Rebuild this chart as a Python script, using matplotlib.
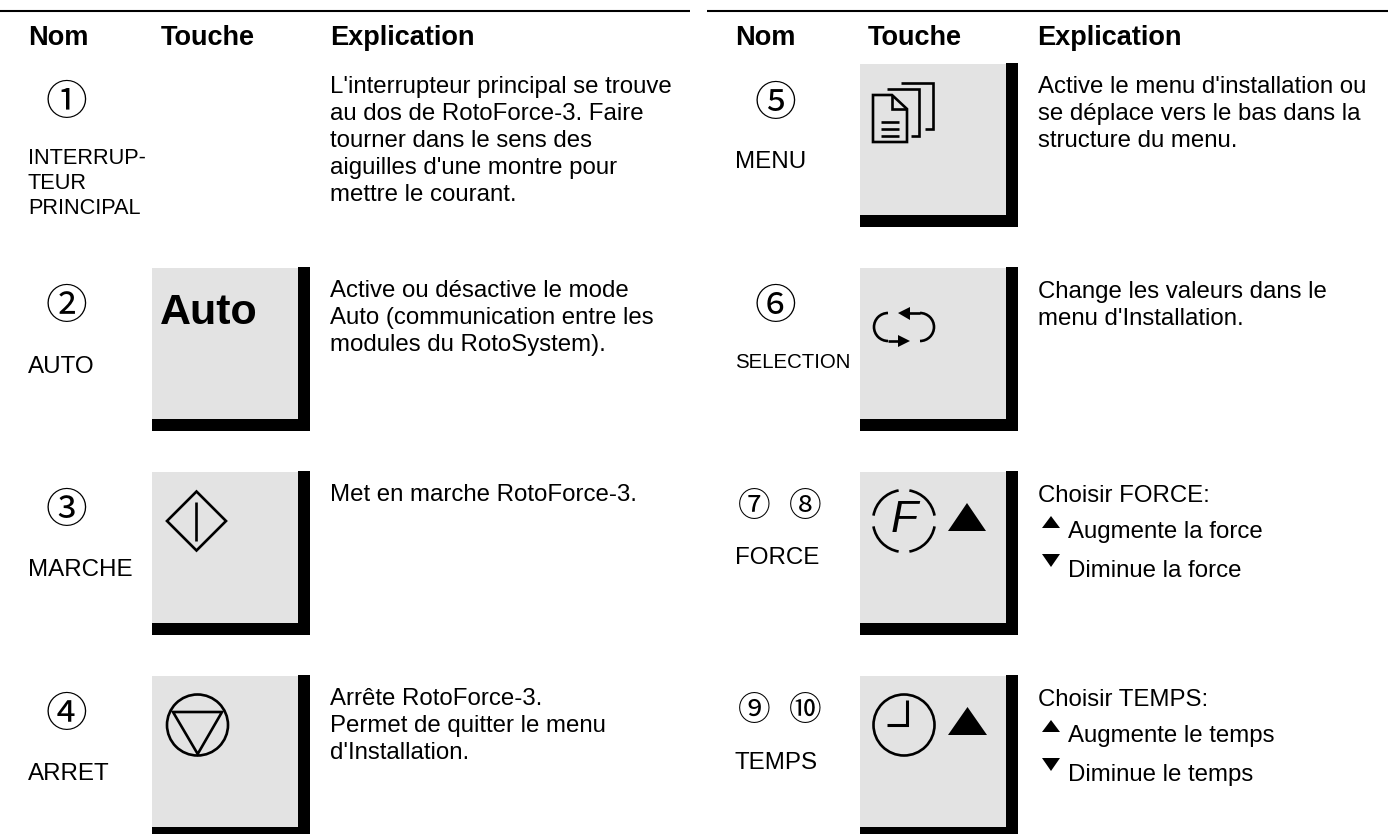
import matplotlib
matplotlib.use("Agg")
import matplotlib.pyplot as plt
from matplotlib.patches import Rectangle, Polygon, Circle, Arc

plt.rcParams['font.family'] = ['Liberation Sans', 'DejaVu Sans']

# column headers
headers = ["Nom", "Touche", "Explication"]

# left column
left_marks = ["\u2460", "\u2461", "\u2462", "\u2463"]
left_names = [["INTERRUP-", "TEUR", "PRINCIPAL"], ["AUTO"], ["MARCHE"], ["ARRET"]]
left_text = [
    ["L'interrupteur principal se trouve", "au dos de RotoForce-3. Faire",
     "tourner dans le sens des", "aiguilles d'une montre pour", "mettre le courant."],
    ["Active ou d\u00e9sactive le mode", "Auto (communication entre les",
     "modules du RotoSystem)."],
    ["Met en marche RotoForce-3."],
    ["Arr\u00eate RotoForce-3.", "Permet de quitter le menu", "d'Installation."],
]

# right column
right_marks = [["\u2464"], ["\u2465"], ["\u2466", "\u2467"], ["\u2468", "\u2469"]]
right_names = ["MENU", "SELECTION", "FORCE", "TEMPS"]
right_text = [
    ["Active le menu d'installation ou", "se d\u00e9place vers le bas dans la",
     "structure du menu."],
    ["Change les valeurs dans le", "menu d'Installation."],
]
force_text = ["Choisir FORCE:", "Augmente la force", "Diminue la force"]
temps_text = ["Choisir TEMPS:", "Augmente le temps", "Diminue le temps"]

row_tops = [63, 267, 471, 675]
BODY = 17.3
LW = 1.9


def draw_key(ax, x, top):
    ax.add_patch(Rectangle((x, top + 1), 146, 152, fc='#e3e3e3', ec='none', zorder=2))
    ax.add_patch(Rectangle((x + 146, top), 12, 164, fc='black', ec='none', zorder=2))
    ax.add_patch(Rectangle((x, top + 152), 158, 12, fc='black', ec='none', zorder=2))


def line(ax, xs, ys, lw=LW):
    ax.plot(xs, ys, color='black', lw=lw, solid_capstyle='butt', solid_joinstyle='miter', zorder=3)


def tri(ax, pts):
    ax.add_patch(Polygon(pts, closed=True, fc='black', ec='none', zorder=3))


def lines_of_text(ax, x, y, rows, size=BODY, step=27):
    for i, r in enumerate(rows):
        ax.text(x, y + i * step, r, fontsize=size, va='baseline', ha='left', color='black')


def mark(ax, x, y, s, size):
    ax.text(x, y, s, fontsize=size, family=['Noto Sans CJK JP'], ha='center', va='center', color='black')


def main():
    fig = plt.figure(figsize=(13.88, 8.34), dpi=100)
    ax = fig.add_axes([0, 0, 1, 1])
    ax.set_xlim(0, 1388)
    ax.set_ylim(834, 0)
    ax.axis('off')

    # rules at the top
    line(ax, [0, 690], [11, 11], lw=1.5)
    line(ax, [707, 1388], [11, 11], lw=1.5)

    for off in [0, 707]:
        for x, h in zip([28, 161, 330], headers):
            ax.text(x + off, 45, h, fontsize=19.5, fontweight='bold', va='baseline')

    # left side
    for i, top in enumerate(row_tops):
        if i > 0:
            draw_key(ax, 152, top)
        mark(ax, 66, top + 40, left_marks[i], 30)
        lines_of_text(ax, 330, top + 30, left_text[i])
    lines_of_text(ax, 28, 164, left_names[0], size=15.7, step=25)
    ax.text(28, 373, left_names[1][0], fontsize=17.4, va='baseline')
    ax.text(28, 576, left_names[2][0], fontsize=17.4, va='baseline')
    ax.text(28, 780, left_names[3][0], fontsize=17.4, va='baseline')

    # Auto key
    ax.text(160, 324, "Auto", fontsize=31, fontweight='bold', va='baseline', zorder=3)

    # start key
    ax.add_patch(Polygon([(167, 521), (196.5, 491.5), (226, 521), (196.5, 550.5)], closed=True,
                         fc='none', ec='black', lw=LW, zorder=3))
    line(ax, [196, 196], [502, 541])

    # stop key
    ax.add_patch(Circle((197.5, 725), 30.5, fc='none', ec='black', lw=LW, zorder=3))
    ax.add_patch(Polygon([(173, 712), (222, 712), (197.7, 754)], closed=True,
                         fc='none', ec='black', lw=LW, zorder=3))

    # right side
    for i, top in enumerate(row_tops):
        draw_key(ax, 860, top)
    mark(ax, 775, 104, right_marks[0][0], 30)
    mark(ax, 775, 308, right_marks[1][0], 30)
    for y, pair in zip([507, 711], right_marks[2:]):
        mark(ax, 754, y, pair[0], 23.5)
        mark(ax, 805, y, pair[1], 23.5)

    ax.text(735, 168, right_names[0], fontsize=17.4, va='baseline')
    ax.text(735, 368, right_names[1], fontsize=14.7, va='baseline')
    ax.text(735, 564, right_names[2], fontsize=17.4, va='baseline')
    ax.text(735, 769, right_names[3], fontsize=17.4, va='baseline')

    lines_of_text(ax, 1038, 93, right_text[0])
    lines_of_text(ax, 1038, 298, right_text[1])

    # pages icon
    ax.add_patch(Polygon([(873, 95), (892, 95), (907, 109), (907, 142), (873, 142)], closed=True,
                         fc='none', ec='black', lw=LW, zorder=3))
    line(ax, [892, 892, 907], [95, 109, 109])
    for y in [122, 129, 136]:
        line(ax, [881, 899], [y, y])
    line(ax, [887, 919, 919, 911], [89, 89, 136, 136])
    line(ax, [901, 933, 933, 925], [83, 83, 129, 129])

    # cycle icon
    ax.add_patch(Arc((888, 327), 28, 28, theta1=90, theta2=270, ec='black', lw=LW, zorder=3))
    ax.add_patch(Arc((920, 327), 28, 28, theta1=-90, theta2=90, ec='black', lw=LW, zorder=3))
    line(ax, [888, 900], [341, 341])
    line(ax, [908, 920], [313, 313])
    tri(ax, [(898, 335), (898, 347), (910, 341)])
    tri(ax, [(910, 307), (910, 320), (898, 313)])

    # force key
    for a, b in [(10, 80), (100, 170), (190, 260), (280, 350)]:
        ax.add_patch(Arc((904, 521), 62, 62, theta1=a, theta2=b, ec='black', lw=LW, zorder=3))
    ax.text(904, 521, "F", fontsize=32, fontstyle='italic', ha='center', va='center', zorder=3)
    tri(ax, [(948, 531), (986, 531), (967, 503)])

    # time key
    ax.add_patch(Circle((904, 725), 30.5, fc='none', ec='black', lw=LW, zorder=3))
    line(ax, [907, 907, 887], [700, 725, 725], lw=2.2)
    tri(ax, [(948, 735), (987, 735), (967.5, 707)])

    # force and time explanations
    for y, rows in zip([502, 706], [force_text, temps_text]):
        ax.text(1038, y, rows[0], fontsize=BODY, va='baseline')
        ax.text(1068, y + 36, rows[1], fontsize=BODY, va='baseline')
        ax.text(1068, y + 75, rows[2], fontsize=BODY, va='baseline')
        tri(ax, [(1042, y + 26), (1060, y + 26), (1051, y + 14)])
        tri(ax, [(1042, y + 52), (1060, y + 52), (1051, y + 65)])

    fig.savefig('out.png', dpi=100)


if __name__ == "__main__":
    main()
